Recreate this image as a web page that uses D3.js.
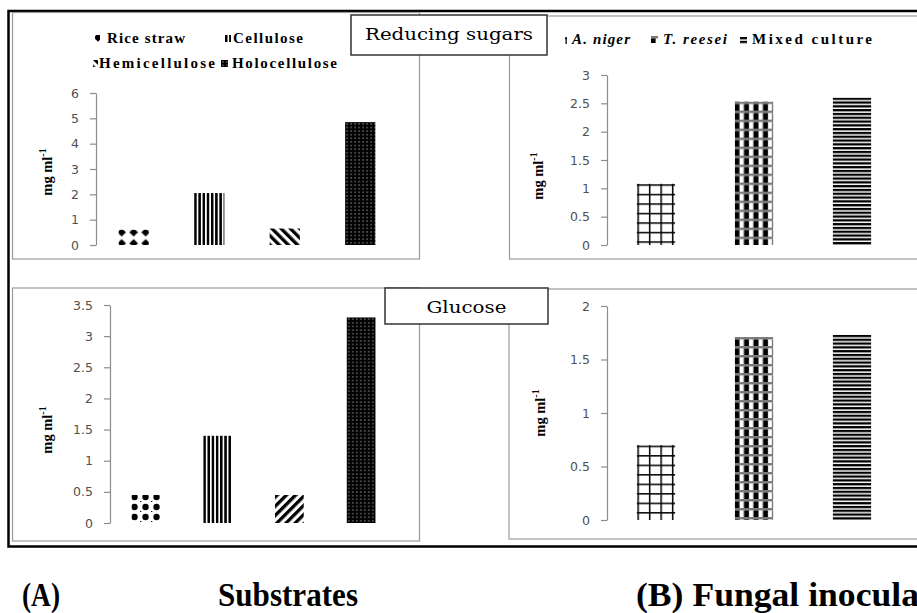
<!DOCTYPE html>
<html><head><meta charset="utf-8">
<script src="https://cdn.jsdelivr.net/npm/d3@7"></script>
<style>body{margin:0;background:#fff}svg{display:block}</style>
</head><body>
<svg id="c" width="917" height="613"></svg>
<script>
// ---------- data ----------
const substrates = ["Rice straw", "Cellulose", "Hemicellulose", "Holocellulose"];
const reducingSugarsSubstrates = [0.6, 2.05, 0.65, 4.85];
const glucoseSubstrates = [0.45, 1.4, 0.45, 3.3];
const fungi = ["A. niger", "T. reesei", "Mixed culture"];
const reducingSugarsFungi = [1.08, 2.53, 2.6];
const glucoseFungi = [0.7, 1.71, 1.73];
const ticksReducingA = [0, 1, 2, 3, 4, 5, 6];
const ticksGlucoseA = [0, 0.5, 1, 1.5, 2, 2.5, 3, 3.5];
const ticksReducingB = [0, 0.5, 1, 1.5, 2, 2.5, 3];
const ticksGlucoseB = [0, 0.5, 1, 1.5, 2];
const panelTitles = ["Reducing sugars", "Glucose"];
const footerLabels = ["(A)", "Substrates", "(B) Fungal inocula"];
const yAxisLabel = "mg ml";
const yAxisSup = "-1";

// ---------- setup ----------
const svg = d3.select("#c");
const defs = svg.append("defs");
let patCount = 0;
const builders = {
  riceTop: { w: 12, h: 11, off: [-3, -3], draw: p => {
    p.append("path").attr("d", "M6,1.2L10.3,5.5L6,9.8L1.7,5.5Z").attr("fill", "#000"); } },
  riceBot: { w: 11, h: 10, off: [-2.5, -3], draw: p => {
    p.append("circle").attr("cx", 5.5).attr("cy", 5).attr("r", 3.2).attr("fill", "#000");
    p.append("rect").attr("x", 0).attr("y", 9).attr("width", 1.3).attr("height", 1).attr("fill", "#000"); } },
  cell: { w: 4.2, h: 4, off: [0, 0], draw: p => {
    p.append("rect").attr("width", 2.5).attr("height", 4).attr("fill", "#000"); } },
  hemiTop: { w: 6.5, h: 6.5, off: [0, 0], tr: "rotate(-45)", draw: p => {
    p.append("rect").attr("width", 3.3).attr("height", 6.5).attr("fill", "#000"); } },
  hemiBot: { w: 6.5, h: 6.5, off: [0, 0], tr: "rotate(45)", draw: p => {
    p.append("rect").attr("width", 3.3).attr("height", 6.5).attr("fill", "#000"); } },
  holo: { w: 4, h: 3.6, off: [0, 0], draw: p => {
    p.append("rect").attr("width", 4).attr("height", 3.6).attr("fill", "#000");
    p.append("rect").attr("x", 1.5).attr("y", 1.3).attr("width", 1).attr("height", 1).attr("fill", "#fff"); } },
  niger: { w: 11.5, h: 9.5, off: [0.5, 0.5], draw: p => {
    p.append("rect").attr("width", 1.5).attr("height", 9.5).attr("fill", "#000");
    p.append("rect").attr("width", 11.5).attr("height", 1.5).attr("fill", "#000"); } },
  reesei: { w: 9.5, h: 9, off: [0, 0], draw: p => {
    p.append("rect").attr("width", 9.5).attr("height", 2.4).attr("fill", "#7a7a7a");
    p.append("rect").attr("x", 0).attr("y", 2.4).attr("width", 4.6).attr("height", 6.6).attr("fill", "#000");
    p.append("rect").attr("x", 8.4).attr("y", 2.4).attr("width", 1.1).attr("height", 6.6).attr("fill", "#8a8a8a"); } },
  mixed: { w: 4, h: 3.8, off: [0, 0], draw: p => {
    p.append("rect").attr("width", 4).attr("height", 2.3).attr("fill", "#000"); } }
};
function makePattern(type, ox, oy) {
  const b = builders[type];
  const id = "pt" + (patCount++);
  const p = defs.append("pattern").attr("id", id).attr("patternUnits", "userSpaceOnUse")
    .attr("width", b.w).attr("height", b.h)
    .attr("patternTransform", `translate(${ox + b.off[0]},${oy + b.off[1]})` + (b.tr ? " " + b.tr : ""));
  p.append("rect").attr("width", b.w).attr("height", b.h).attr("fill", "#fff");
  b.draw(p);
  return `url(#${id})`;
}

// outer frame
svg.append("rect").attr("x", 8.5).attr("y", 11).attr("width", 940).attr("height", 535.5)
  .attr("fill", "none").attr("stroke", "#000").attr("stroke-width", 2.5);

const panels = [
  { box: [12, 12.5, 407, 246.5], range: [96, 398], y0: 245, yTop: 93, max: 6, ticks: ticksReducingA,
    cats: substrates, vals: reducingSugarsSubstrates, pad: 0.6,
    pats: ["riceTop", "cell", "hemiTop", "holo"], ylab: [52, 172] },
  { box: [12, 288, 407, 253], range: [110, 397], y0: 523, yTop: 305, max: 3.5, ticks: ticksGlucoseA,
    cats: substrates, vals: glucoseSubstrates, pad: 0.6,
    pats: ["riceBot", "cell", "hemiBot", "holo"], ylab: [52, 430] },
  { box: [509, 16, 440, 243], range: [607, 901], y0: 245, yTop: 75, max: 3, ticks: ticksReducingB,
    cats: fungi, vals: reducingSugarsFungi, pad: 0.61,
    pats: ["niger", "reesei", "mixed"], ylab: [543, 176] },
  { box: [508.5, 289, 440, 250], range: [607, 901], y0: 520, yTop: 306, max: 2, ticks: ticksGlucoseB,
    cats: fungi, vals: glucoseFungi, pad: 0.61,
    pats: ["niger", "reesei", "mixed"], ylab: [545, 413] }
];

panels.forEach(P => {
  const g = svg.append("g");
  g.append("rect").attr("x", P.box[0] + 0.5).attr("y", P.box[1]).attr("width", P.box[2]).attr("height", P.box[3])
    .attr("fill", "#fff").attr("stroke", "#9a9a9a").attr("stroke-width", 1.2);
  const x = d3.scaleBand().domain(P.cats).range(P.range).paddingInner(P.pad).paddingOuter(P.pad / 2);
  const y = d3.scaleLinear().domain([0, P.max]).range([P.y0, P.yTop]);
  g.selectAll("rect.bar").data(P.cats.map((c, i) => ({ c, v: P.vals[i], p: P.pats[i] })))
    .enter().append("rect").attr("class", "bar")
    .attr("x", d => x(d.c)).attr("width", x.bandwidth())
    .attr("y", d => y(d.v)).attr("height", d => y(0) - y(d.v))
    .attr("fill", d => makePattern(d.p, x(d.c), y(d.v)));
  const ax = g.append("g").attr("transform", `translate(${P.range[0]},0)`)
    .call(d3.axisLeft(y).tickValues(P.ticks).tickSize(6).tickSizeOuter(0).tickPadding(11).tickFormat(d3.format("~g")));
  ax.select(".domain").attr("stroke", "#8c8c8c").attr("stroke-width", 1.2);
  ax.selectAll(".tick line").attr("stroke", "#8c8c8c").attr("stroke-width", 1.2);
  ax.selectAll(".tick text").attr("fill", "#505050").style("font-family", "'DejaVu Sans', Verdana, sans-serif")
    .style("font-size", "12.5px");
  const t = g.append("text").attr("transform", `translate(${P.ylab[0]},${P.ylab[1]}) rotate(-90)`)
    .attr("text-anchor", "middle").style("font-family", "'Liberation Serif', 'Times New Roman', serif")
    .style("font-weight", "bold").style("font-size", "14.5px").attr("fill", "#000");
  t.append("tspan").text(yAxisLabel);
  t.append("tspan").attr("dy", -6).style("font-size", "10px").text(yAxisSup);
});

// legends
const serif = "'Liberation Serif', 'Times New Roman', serif";
const legendA = [
  { name: substrates[0], pat: "riceTop", mx: 95, my: 35, mw: 5, tx: 107, ty: 43, tl: 78 },
  { name: substrates[1], pat: "cell", mx: 225, my: 35, mw: 6, tx: 233, ty: 43, tl: 70 },
  { name: substrates[2], pat: "hemiTop", mx: 93, my: 60, mw: 5, tx: 99, ty: 68, tl: 116 },
  { name: substrates[3], pat: "holo", mx: 221, my: 60, mw: 7, tx: 232, ty: 68, tl: 105 }
];
const legendB = [
  { name: fungi[0], pat: "niger", mx: 565, my: 37, mw: 2, tx: 572, ty: 44, tl: 58, it: true },
  { name: fungi[1], pat: "reesei", mx: 651, my: 36, mw: 7, tx: 663, ty: 44, tl: 64, it: true },
  { name: fungi[2], pat: "mixed", mx: 740, my: 37, mw: 7, tx: 752, ty: 44, tl: 120, it: false }
];
legendA.concat(legendB).forEach(L => {
  svg.append("rect").attr("x", L.mx).attr("y", L.my).attr("width", L.mw).attr("height", 7)
    .attr("fill", makePattern(L.pat, L.mx, L.my));
  svg.append("text").attr("x", L.tx).attr("y", L.ty).text(L.name)
    .style("font-family", serif).style("font-weight", "bold").style("font-size", "15px")
    .style("font-style", L.it ? "italic" : "normal")
    .attr("textLength", L.tl).attr("lengthAdjust", "spacing");
});

// title boxes
const titleBoxes = [
  { text: panelTitles[0], x: 351, y: 15, w: 196, h: 40, ty: 40, tl: 168 },
  { text: panelTitles[1], x: 385, y: 288, w: 163, h: 36, ty: 313, tl: 80 }
];
titleBoxes.forEach(B => {
  svg.append("rect").attr("x", B.x).attr("y", B.y).attr("width", B.w).attr("height", B.h)
    .attr("fill", "#fff").attr("stroke", "#333").attr("stroke-width", 1.5);
  svg.append("text").attr("x", B.x + B.w / 2).attr("y", B.ty).attr("text-anchor", "middle")
    .text(B.text).style("font-family", "'DejaVu Serif', serif").style("font-size", "17.5px")
    .attr("textLength", B.tl).attr("lengthAdjust", "spacingAndGlyphs");
});

// footer labels
const footer = [
  { x: 22, tl: 38 }, { x: 218, tl: 140 }, { x: 636, tl: 283 }
];
footerLabels.forEach((s, i) => {
  svg.append("text").attr("transform", `translate(${footer[i].x},606) scale(1,1.12)`).text(s)
    .style("font-family", serif).style("font-weight", "bold").style("font-size", "30px")
    .attr("textLength", footer[i].tl).attr("lengthAdjust", "spacingAndGlyphs");
});
</script>
</body></html>
